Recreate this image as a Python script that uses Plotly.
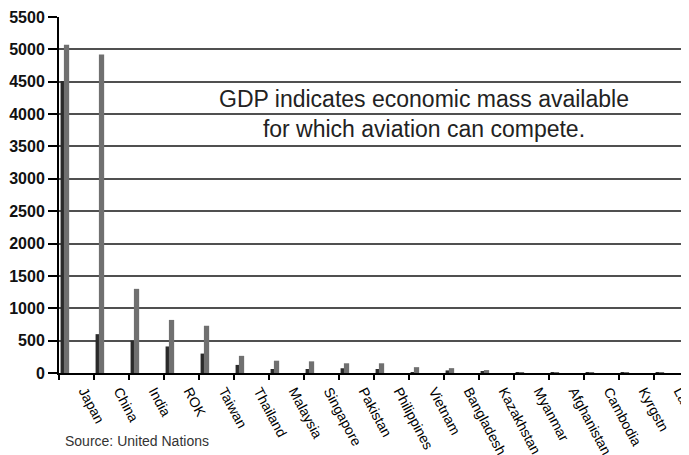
import plotly.graph_objects as go

countries = ["Japan", "China", "India", "ROK", "Taiwan", "Thailand", "Malaysia",
             "Singapore", "Pakistan", "Philippines", "Vietnam", "Bangladesh",
             "Kazakhstan", "Myanmar", "Afghanistan", "Cambodia", "Kyrgstn", "Laos"]
gdp_dark = [4510, 600, 500, 410, 300, 125, 62, 62, 73, 62, 15, 40, 25, 10, 8, 5, 2, 2]
gdp_gray = [5070, 4920, 1300, 820, 730, 265, 190, 180, 150, 150, 90, 75, 45, 15, 12, 8, 3, 3]
y_ticks = list(range(0, 5501, 500))

FONT = "Liberation Sans, Arial, sans-serif"

fig = go.Figure()
fig.add_trace(go.Bar(x=countries, y=gdp_dark, offset=-0.455, width=0.1,
                     marker=dict(color="#2a2a2a", line=dict(width=0)), showlegend=False))
fig.add_trace(go.Bar(x=countries, y=gdp_gray, offset=-0.36, width=0.15,
                     marker=dict(color="#707070", line=dict(width=0)), showlegend=False))

# the page body has an 8px margin, so the figure is sized to fill the rest
fig.update_layout(
    width=681, height=447,
    margin=dict(l=51, r=0, t=9, b=82, autoexpand=False),
    paper_bgcolor="white", plot_bgcolor="white",
    barmode="overlay",
    font=dict(family=FONT, color="black"),
    xaxis=dict(
        type="category", range=[-0.5, 17.5], tickson="boundaries",
        ticks="outside", ticklen=5, tickcolor="black", tickwidth=1.5,
        tickangle=62, tickfont=dict(size=14, family=FONT, color="black"),
        ticklabelshift=8, ticklabelstandoff=3,
        showgrid=False, showline=True, linecolor="black", linewidth=1.5,
        zeroline=False, automargin=False,
    ),
    yaxis=dict(
        range=[0, 5500], tickvals=y_ticks, ticktext=[str(v) for v in y_ticks],
        ticks="outside", ticklen=9, tickcolor="black", tickwidth=1.5,
        tickfont=dict(size=16, family="Liberation Sans, Arial", color="#111", weight="bold"),
        showgrid=True, gridcolor="#505050", gridwidth=1.7,
        showline=True, linecolor="black", linewidth=2, zeroline=False, automargin=False,
    ),
    annotations=[
        dict(text="GDP indicates economic mass available<br>for which aviation can compete.",
             xref="paper", yref="y", x=0.579, y=4000, showarrow=False,
             font=dict(size=23, family=FONT, color="#222"), align="center",
             xanchor="center", yanchor="middle"),
        dict(text="Source: United Nations", xref="paper", yref="paper",
             x=0.0063, y=-0.191, xanchor="left", yanchor="middle", showarrow=False,
             font=dict(size=14, family=FONT, color="#333")),
    ],
)

fig.write_html("out.html")
